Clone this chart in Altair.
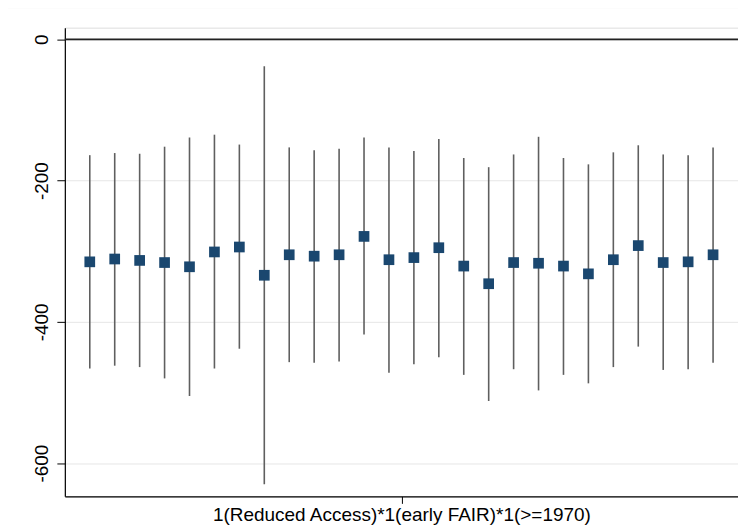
import altair as alt
import pandas as pd

idx = list(range(26))
coef = [-315, -311, -313, -316, -322, -301, -294, -334, -305, -307, -305, -279,
        -312, -309, -295, -321, -346, -316, -317, -321, -332, -312, -292, -316, -315, -305]
ci_hi = [-164, -161, -162, -152, -139, -135, -149, -38, -153, -157, -155, -139,
         -153, -158, -141, -168, -181, -163, -138, -168, -177, -160, -150, -163, -164, -153]
ci_lo = [-466, -462, -464, -480, -505, -466, -438, -630, -457, -458, -456, -418,
         -472, -460, -450, -475, -512, -467, -497, -475, -487, -464, -435, -468, -467, -458]

x_label = "1(Reduced Access)*1(early FAIR)*1(>=1970)"

df = pd.DataFrame({"i": idx, "coef": coef, "hi": ci_hi, "lo": ci_lo})

W, H = 675, 470
xs = alt.Scale(domain=[-1, 26], nice=False, zero=False)
ys = alt.Scale(domain=[-647, 16.5], nice=False, zero=False)

base = alt.Chart(df)

ci = base.mark_rule(color="#5f5f5f", strokeWidth=1.6).encode(
    x=alt.X("i:Q", scale=xs,
            axis=alt.Axis(values=[12.5], labelExpr=f"'{x_label}'", title=None, grid=False,
                          labelFontSize=19, labelFont="Liberation Sans", labelColor="black",
                          labelLimit=2000,
                          tickColor="black", tickSize=7, labelPadding=2,
                          domainColor="black", domainWidth=1.2)),
    y=alt.Y("lo:Q", scale=ys,
            axis=alt.Axis(values=[0, -200, -400, -600], title=None, grid=True,
                          gridColor="#e6e6e6", gridWidth=1,
                          labelExpr="datum.value + ''",
                          labelAngle=270, labelAlign="center", labelBaseline="bottom",
                          labelFontSize=19, labelFont="Liberation Sans", labelColor="black",
                          tickColor="black", tickSize=8, labelPadding=5,
                          domainColor="black", domainWidth=1.2)),
    y2="hi:Q",
)

pts = base.mark_square(color="#1a476f", size=115, opacity=1, filled=True).encode(
    x=alt.X("i:Q", scale=xs),
    y=alt.Y("coef:Q", scale=ys),
)

zero_df = pd.DataFrame({"z": [0]})
zero = alt.Chart(zero_df).mark_rule(color="#222222", strokeWidth=1.8).encode(
    y=alt.Y("z:Q", scale=ys)
)

top_df = pd.DataFrame({"t": [0]})
top_line = alt.Chart(top_df).mark_rule(color="#eeeeee", strokeWidth=1, clip=False).encode(
    x=alt.value(-57), x2=alt.value(681), y=alt.value(-20)
)

chart = alt.layer(zero, ci, pts, top_line).properties(
    width=W, height=H,
    autosize=alt.AutoSizeParams(type="none"),
    padding={"left": 57, "top": 19, "right": 0, "bottom": 30},
).configure_view(stroke=None).configure(background="white")

chart.save("out.html", embed_options={"renderer": "svg", "actions": False})
